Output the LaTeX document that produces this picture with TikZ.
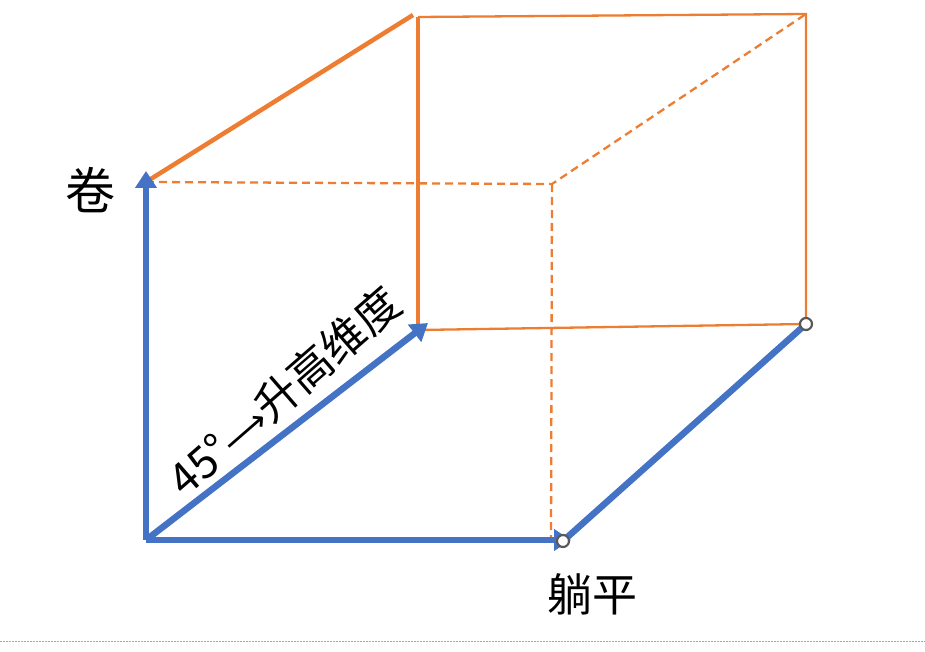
\documentclass[tikz,border=0pt]{standalone}
\usepackage{fontspec}
\setmainfont{Noto Sans CJK SC}
\newfontfamily\symfont{DejaVu Sans}
\usetikzlibrary{arrows.meta}
\definecolor{cblue}{HTML}{4472C4}
\definecolor{corange}{HTML}{ED7D31}
\definecolor{cgray}{HTML}{595959}
\tikzset{
  bluearrow/.style={draw=cblue, line width=6.5pt, -{Triangle[length=17pt,width=21pt]}},
  blueline/.style={draw=cblue, line width=6.5pt},
  thickorange/.style={draw=corange, line width=4.5pt},
  thinorange/.style={draw=corange, line width=2.3pt},
  dashorange/.style={draw=corange, line width=2.3pt, dash pattern=on 8pt off 5pt},
  endpoint/.style={circle, draw=cgray, fill=white, line width=2.2pt, inner sep=0pt, minimum size=12pt},
  lbl/.style={inner sep=0pt}
}
\begin{document}
\begin{tikzpicture}[x=1pt,y=-1pt]
\useasboundingbox (0,0) rectangle (925,652);
% coordinates
\coordinate (O) at (146,540);
\coordinate (Up) at (146,171);
\coordinate (UpC) at (146,182);
\coordinate (Diag) at (428,323);
\coordinate (DiagC) at (418,330);
\coordinate (Right) at (571,540);
\coordinate (RightC) at (563,541);
\coordinate (FTop) at (413,15);
\coordinate (VTop) at (418,17);
\coordinate (TR) at (806,14);
\coordinate (BR) at (806,324);
\coordinate (DMid) at (552,184);
\coordinate (DBot) at (551,540);
% orange thin edges
\draw[thinorange] (VTop) -- (TR) -- (BR) -- (DiagC);
% orange dashed edges
\draw[dashorange] (UpC) -- (DMid) -- (TR);
\draw[dashorange] (DMid) -- (DBot);
% orange thick edges
\draw[thickorange] (UpC) -- (FTop);
\draw[thickorange] (VTop) -- (DiagC);
% blue edges
\draw[blueline] (RightC) -- (BR);
\draw[bluearrow] (O) -- (Up);
\draw[bluearrow] (O) -- (Right);
\draw[bluearrow] (O) -- (Diag);
% endpoints
\node[endpoint] (c1) at (RightC) {};
\node[endpoint] (c2) at (BR) {};
% labels
\node[lbl, font=\fontsize{50}{54}\selectfont] (juan) at (90,190) {卷};
\node[lbl, font=\fontsize{45}{50}\selectfont] (tangping) at (592,594) {躺平};
\node[lbl, font=\fontsize{44}{50}\selectfont, rotate=41] (shengwei) at (284,391) {45°{\symfont\fontsize{34}{40}\selectfont ⟶}升高维度};
% bottom dotted rule
\coordinate (L0) at (0,641);
\coordinate (L1) at (925,641);
\draw[draw=gray!70, line width=0.8pt, dash pattern=on 1.5pt off 1.5pt] (L0) -- (L1);
\end{tikzpicture}
\end{document}
